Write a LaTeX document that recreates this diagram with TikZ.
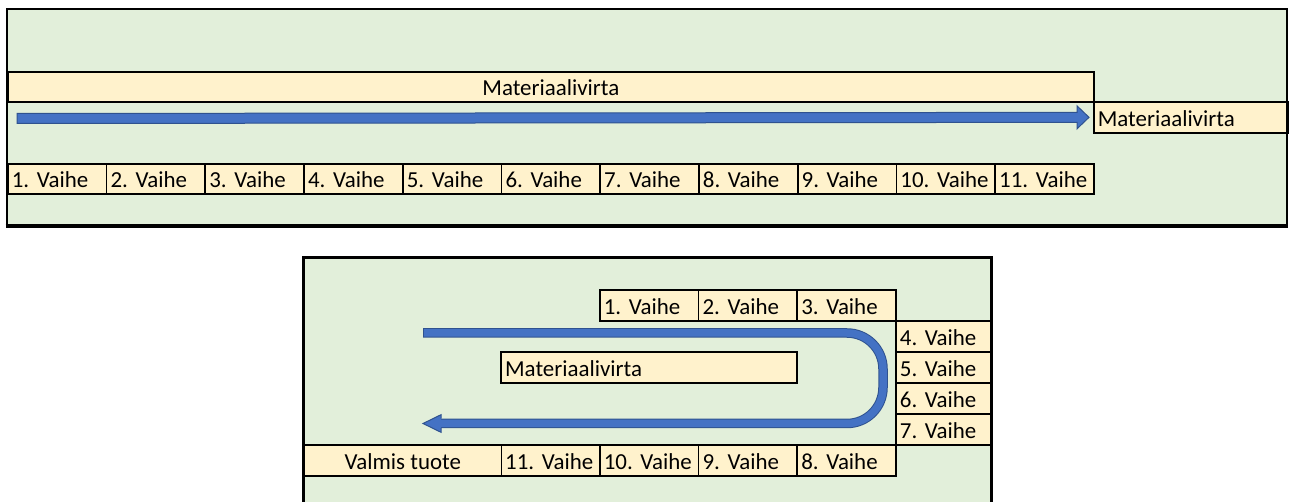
\documentclass[tikz,border=0pt]{standalone}
\usepackage{fontspec}
\setmainfont{Carlito}
\definecolor{sheetgreen}{HTML}{E2EFDA}
\definecolor{cellyellow}{HTML}{FFF2CC}
\definecolor{flowblue}{HTML}{4472C4}
\definecolor{flowedge}{HTML}{2F528F}
\begin{document}
\begin{tikzpicture}[x=1bp,y=-1bp,
  cellbase/.style={draw=black, line width=1.7bp, fill=cellyellow, inner ysep=0pt,
    text height=18bp, text depth=0pt, anchor=north west,
    font=\fontsize{23}{27}\selectfont\frenchspacing},
  % left-aligned cell: #1 = cell width minus padding
  lcell/.style={cellbase, inner xsep=4bp, text width=#1, align=left},
  ccell/.style={cellbase, inner xsep=0pt},
  panelline/.style={line width=2.7bp, line cap=rect},
  flowarrow/.style={fill=flowblue, draw=flowedge, line width=1bp, line join=miter}
]
\useasboundingbox (0,0) rectangle (1290,502);

% ---------- linear flow ----------
\fill[sheetgreen] (7,9) rectangle (1287,226);

\node[ccell, minimum width=1086bp, minimum height=30bp] (tbar) at (7,71) {Materiaalivirta};
\node[lcell=186bp, minimum height=31bp] (tmat) at (1093,101) {Materiaalivirta};
\foreach \i in {1,...,11}
  \node[lcell=90.7bp, minimum height=30bp] (t\i) at ({7+(\i-1)*98.73},163) {\mbox{\i. Vaihe}};

\coordinate (tstart) at (17,118.5);
\coordinate (ttip) at ([xshift=-4bp]tmat.west);
\draw[flowarrow] ([yshift=-5bp]tstart) -- ([xshift=-12bp,yshift=-5bp]ttip)
  -- ([xshift=-12bp,yshift=-11.5bp]ttip) -- (ttip)
  -- ([xshift=-12bp,yshift=11.5bp]ttip) -- ([xshift=-12bp,yshift=5bp]ttip)
  -- ([yshift=5bp]tstart) -- cycle;

\draw[panelline] (7,226) -- (7,9) -- (1287,9) -- (1287,226);
\draw[line width=4bp] (5.65,226) -- (1288.35,226);

% ---------- U-shaped flow ----------
\fill[sheetgreen] (303.5,257.5) rectangle (991.5,502);

\node[lcell=90.7bp, minimum height=31bp] (b1) at (599,289) {\mbox{1. Vaihe}};
\node[lcell=90.7bp, minimum height=31bp] (b2) at (697.7,289) {\mbox{2. Vaihe}};
\node[lcell=90.7bp, minimum height=31bp] (b3) at (796.4,289) {\mbox{3. Vaihe}};
\foreach \i/\y in {4/320,5/351,6/382,7/413}
  \node[lcell=87.5bp, minimum height=31bp] (b\i) at (895.1,\y) {\mbox{\i. Vaihe}};
\node[lcell=90.7bp, minimum height=31bp] (b8) at (796.4,444) {\mbox{8. Vaihe}};
\node[lcell=90.7bp, minimum height=31bp] (b9) at (697.7,444) {\mbox{9. Vaihe}};
\node[lcell=90.7bp, minimum height=31bp] (b10) at (599,444) {\mbox{10. Vaihe}};
\node[lcell=90.7bp, minimum height=31bp] (b11) at (500.3,444) {\mbox{11. Vaihe}};
\node[ccell, minimum width=197bp, minimum height=31bp] (bvalmis) at (303.5,444) {Valmis tuote};
\node[lcell=288bp, minimum height=31bp] (bmat) at (500.3,351) {Materiaalivirta};

\coordinate (ustart) at (423,333);
\coordinate (uright) at (883,333);
\coordinate (ulow) at (883,423.5);
\coordinate (ubase) at (441,423.5);
\coordinate (utip) at (423,423.5);
\draw[flowedge, line width=9.5bp, rounded corners=36bp] (ustart) -- (uright) -- (ulow) -- (ubase);
\draw[flowblue, line width=7.5bp, rounded corners=36bp, shorten <=1bp] (ustart) -- (uright) -- (ulow) -- (ubase);
\fill[flowblue] ([yshift=-8.8bp]ubase) -- (utip) -- ([yshift=8.8bp]ubase) -- cycle;
\draw[flowedge, line width=1bp, line join=miter]
  ([yshift=-4.75bp]ubase) -- ([yshift=-8.8bp]ubase) -- (utip)
  -- ([yshift=8.8bp]ubase) -- ([yshift=4.75bp]ubase);

\draw[panelline] (303.5,502) -- (303.5,257.5) -- (991.5,257.5) -- (991.5,502);
\end{tikzpicture}
\end{document}
